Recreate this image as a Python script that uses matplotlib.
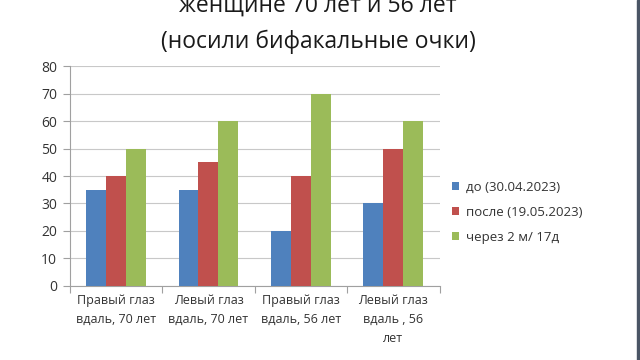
import matplotlib
matplotlib.use("Agg")
import matplotlib.pyplot as plt
import numpy as np

# Chart data
categories = ["Правый глаз\nвдаль, 70 лет", "Левый глаз\nвдаль, 70 лет",
              "Правый глаз\nвдаль, 56 лет", "Левый глаз\nвдаль , 56\nлет"]
series_names = ["до (30.04.2023)", "после (19.05.2023)", "через 2 м/ 17д"]
before = [35, 35, 20, 30]
after = [40, 45, 40, 50]
later = [50, 60, 70, 60]
colors = ["#4F81BD", "#C0504D", "#9BBB59"]

plt.rcParams["font.family"] = ["Open Sans", "DejaVu Sans"]

fig = plt.figure(figsize=(6.4, 3.6), dpi=100)
ax = fig.add_axes([0.109, 0.2056, 0.578, 0.611])

x = np.arange(len(categories))
w = 0.216
for i, (vals, name) in enumerate(zip([before, after, later], series_names)):
    ax.bar(x + (i - 1) * w, vals, w, color=colors[i], label=name, zorder=3)

ax.set_xlim(-0.5, len(categories) - 0.5)
ax.set_ylim(0, 80)
ax.set_yticks(range(0, 81, 10))
ax.set_xticks(np.arange(-0.5, len(categories), 1.0))
ax.set_xticklabels([])
ax.set_xticks(x, minor=True)
ax.set_xticklabels(categories, minor=True, fontsize=9, color="#333333",
                   linespacing=1.6)
ax.tick_params(axis="x", which="minor", length=0, pad=6)
ax.tick_params(axis="x", which="major", length=5, color="#a0a0a0")
ax.tick_params(axis="y", length=5, color="#a0a0a0", labelsize=10,
               labelcolor="#333333", pad=4)
ax.grid(axis="y", color="#c8c8c8", linewidth=0.8, zorder=0)
for s in ["top", "right"]:
    ax.spines[s].set_visible(False)
for s in ["left", "bottom"]:
    ax.spines[s].set_color("#a0a0a0")

ax.legend(loc="center left", bbox_to_anchor=(1.0, 0.335), frameon=False,
          fontsize=9.5, handlelength=0.6, handleheight=0.6, handletextpad=0.5,
          labelspacing=0.9, labelcolor="#333333")

fig.text(0.497, 0.985, "женщине 70 лет и 56 лет", ha="center", va="center",
         fontsize=16.5, color="#1a1a1a")
fig.text(0.497, 0.885, "(носили бифакальные очки)", ha="center", va="center",
         fontsize=16.5, color="#1a1a1a")

# slide edge on the right
fig.patches.append(plt.Rectangle((0.995, 0), 0.005, 1, transform=fig.transFigure,
                                 color="#4a5565"))

fig.savefig("out.png", dpi=100)
